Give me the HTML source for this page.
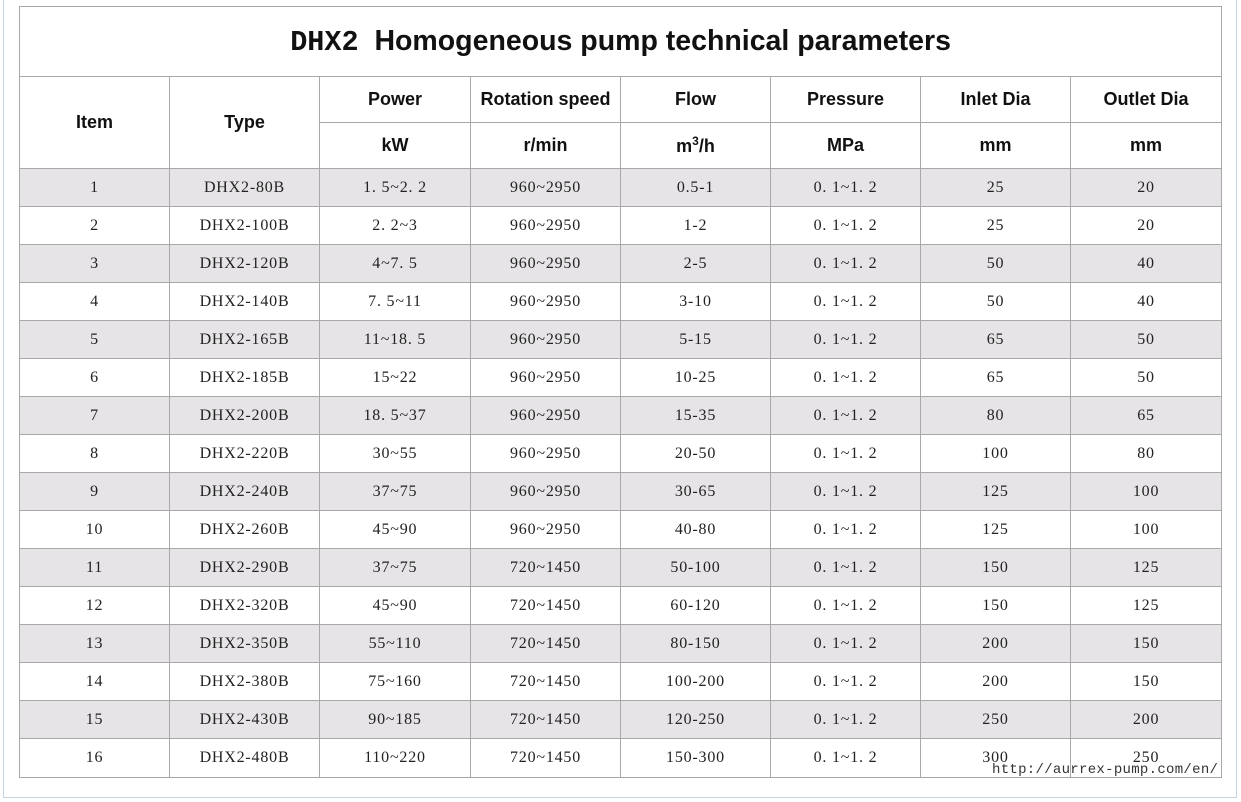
<!DOCTYPE html>
<html><head><meta charset="utf-8"><style>
body{margin:0;width:1241px;height:802px;background:#fff;position:relative;overflow:hidden}
.frame{position:absolute;left:3px;top:0;width:1232px;height:797px;border:1px solid #c8d4e0;border-top:none}
table{position:absolute;left:19px;top:6px;border-collapse:collapse;table-layout:fixed;width:1202px}
td{border:1px solid #a8a8a8;text-align:center;padding:0;overflow:hidden;white-space:nowrap}
.t{height:69px;font:bold 28.5px "Liberation Sans",sans-serif;color:#111}
.h{height:45px;font:bold 18px "Liberation Sans",sans-serif;color:#111}
.d td{height:37px;line-height:20px;font:16px "Liberation Serif",serif;color:#222;letter-spacing:0.8px}
.d td span{font-family:"Liberation Serif",serif}
.g td{background:#e6e4e6}
.url{position:absolute;left:992px;top:762px;font:14px "Liberation Mono",monospace;color:#333;letter-spacing:0.3px}
</style></head><body>
<div class="frame"></div>
<table>
<colgroup><col style="width:150px"><col style="width:150px"><col style="width:151px"><col style="width:150px"><col style="width:150px"><col style="width:150px"><col style="width:150px"><col style="width:151px"></colgroup>
<tr><td colspan="8" class="t"><span style="font-family:'Liberation Mono',monospace">DHX2</span>&nbsp; Homogeneous pump technical parameters</td></tr>
<tr><td rowspan="2" class="h">Item</td><td rowspan="2" class="h">Type</td><td class="h">Power</td><td class="h">Rotation speed</td><td class="h">Flow</td><td class="h">Pressure</td><td class="h">Inlet Dia</td><td class="h">Outlet Dia</td></tr>
<tr><td class="h">kW</td><td class="h">r/min</td><td class="h">m<sup style="font-size:12px">3</sup>/h</td><td class="h">MPa</td><td class="h">mm</td><td class="h">mm</td></tr>
<tr class="d g"><td>1</td><td>DHX2-80B</td><td>1. 5~2. 2</td><td>960~2950</td><td>0.5-1</td><td>0. 1~1. 2</td><td>25</td><td>20</td></tr>
<tr class="d"><td>2</td><td>DHX2-100B</td><td>2. 2~3</td><td>960~2950</td><td>1-2</td><td>0. 1~1. 2</td><td>25</td><td>20</td></tr>
<tr class="d g"><td>3</td><td>DHX2-120B</td><td>4~7. 5</td><td>960~2950</td><td>2-5</td><td>0. 1~1. 2</td><td>50</td><td>40</td></tr>
<tr class="d"><td>4</td><td>DHX2-140B</td><td>7. 5~11</td><td>960~2950</td><td>3-10</td><td>0. 1~1. 2</td><td>50</td><td>40</td></tr>
<tr class="d g"><td>5</td><td>DHX2-165B</td><td>11~18. 5</td><td>960~2950</td><td>5-15</td><td>0. 1~1. 2</td><td>65</td><td>50</td></tr>
<tr class="d"><td>6</td><td>DHX2-185B</td><td>15~22</td><td>960~2950</td><td>10-25</td><td>0. 1~1. 2</td><td>65</td><td>50</td></tr>
<tr class="d g"><td>7</td><td>DHX2-200B</td><td>18. 5~37</td><td>960~2950</td><td>15-35</td><td>0. 1~1. 2</td><td>80</td><td>65</td></tr>
<tr class="d"><td>8</td><td>DHX2-220B</td><td>30~55</td><td>960~2950</td><td>20-50</td><td>0. 1~1. 2</td><td>100</td><td>80</td></tr>
<tr class="d g"><td>9</td><td>DHX2-240B</td><td>37~75</td><td>960~2950</td><td>30-65</td><td>0. 1~1. 2</td><td>125</td><td>100</td></tr>
<tr class="d"><td>10</td><td>DHX2-260B</td><td>45~90</td><td>960~2950</td><td>40-80</td><td>0. 1~1. 2</td><td>125</td><td>100</td></tr>
<tr class="d g"><td>11</td><td>DHX2-290B</td><td>37~75</td><td>720~1450</td><td>50-100</td><td>0. 1~1. 2</td><td>150</td><td>125</td></tr>
<tr class="d"><td>12</td><td>DHX2-320B</td><td>45~90</td><td>720~1450</td><td>60-120</td><td>0. 1~1. 2</td><td>150</td><td>125</td></tr>
<tr class="d g"><td>13</td><td>DHX2-350B</td><td>55~110</td><td>720~1450</td><td>80-150</td><td>0. 1~1. 2</td><td>200</td><td>150</td></tr>
<tr class="d"><td>14</td><td>DHX2-380B</td><td>75~160</td><td>720~1450</td><td>100-200</td><td>0. 1~1. 2</td><td>200</td><td>150</td></tr>
<tr class="d g"><td>15</td><td>DHX2-430B</td><td>90~185</td><td>720~1450</td><td>120-250</td><td>0. 1~1. 2</td><td>250</td><td>200</td></tr>
<tr class="d"><td style="height:38px">16</td><td>DHX2-480B</td><td>110~220</td><td>720~1450</td><td>150-300</td><td>0. 1~1. 2</td><td>300</td><td>250</td></tr>
</table>
<div class="url">http://aurrex-pump.com/en/</div>
</body></html>
